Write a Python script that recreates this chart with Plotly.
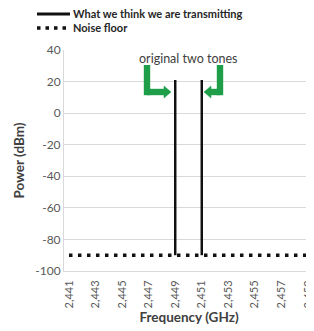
import plotly.graph_objects as go

# ---- data ----
freq_ticks = [2.441, 2.443, 2.445, 2.447, 2.449, 2.451, 2.453, 2.455, 2.457, 2.459]
tick_labels = ["2,441", "2,443", "2,445", "2,447", "2,449", "2,451", "2,453", "2,455", "2,457", "2,459"]
power_ticks = [40, 20, 0, -20, -40, -60, -80, -100]
power_labels = ["40", "20", "0", "-20", "-40", "-60", "-80", "-100"]
tone_freqs = [2.449, 2.451]
tone_power = [21, 21]
noise_floor_db = -90
noise_freq = [2.441, 2.459]
noise_power = [noise_floor_db, noise_floor_db]
series_names = ["What we think we are transmitting", "Noise floor"]

FONT = "Lato, 'Open Sans', sans-serif"
GREEN = "#1f9e4a"
OFF = 8  # page body margin
W, H = 314, 331
# plot area in window pixels: left 64, right 314, top 50, bottom 271
ML = 64 - OFF
MT = 50 - OFF
MR = W - (314 - OFF)
MB = H - (271 - OFF)
PW, PH = W - ML - MR, H - MT - MB

def px(x):
    return (x - OFF - ML) / PW

def py(y):
    return 1 + (MT - (y - OFF)) / PH

fig = go.Figure()

# tones as vertical lines from noise floor up to tone power
tx, ty = [], []
for f, p in zip(tone_freqs, tone_power):
    tx += [f, f, None]
    ty += [noise_floor_db, p, None]
fig.add_trace(go.Scatter(x=tx, y=ty, mode="lines",
                         line=dict(color="#111111", width=2.5),
                         name=series_names[0], showlegend=False))
fig.add_trace(go.Scatter(x=noise_freq, y=noise_power, mode="lines",
                         line=dict(color="#111111", width=3.5, dash="3.5px,5.5px"),
                         name=series_names[1], showlegend=False))

shapes = []
annotations = []

# manual legend (compact, like the original)
legend_rows = [(14, "solid"), (28, "3.5px,5px")]
for (yy, dash), name in zip(legend_rows, series_names):
    shapes.append(dict(type="line", xref="paper", yref="paper",
                       x0=px(37), x1=px(70), y0=py(yy), y1=py(yy),
                       line=dict(color="#111111", width=3.5 if dash != "solid" else 3, dash=dash)))
    annotations.append(dict(x=px(71), y=py(yy), xref="paper", yref="paper",
                            xanchor="left", yanchor="middle", showarrow=False,
                            text=f"<b>{name}</b>",
                            font=dict(family=FONT, size=11, color="#262626")))

# green bent arrows (annotation graphics), placed in pixel coords of the window
def bent_arrow(stem_px, top_px, bend_px, tip_px, direction):
    half = 3.2
    head_len = 7
    head_half = 6
    base_px = tip_px - direction * head_len
    shapes.append(dict(type="rect", xref="paper", yref="paper",
                       x0=px(stem_px - half), x1=px(stem_px + half),
                       y0=py(bend_px + half), y1=py(top_px),
                       fillcolor=GREEN, line=dict(width=0), layer="above"))
    shapes.append(dict(type="rect", xref="paper", yref="paper",
                       x0=px(min(stem_px, base_px)), x1=px(max(stem_px, base_px)),
                       y0=py(bend_px + half), y1=py(bend_px - half),
                       fillcolor=GREEN, line=dict(width=0), layer="above"))
    shapes.append(dict(type="path", xref="paper", yref="paper",
                       path=f"M {px(base_px)},{py(bend_px - head_half)} L {px(tip_px)},{py(bend_px)} L {px(base_px)},{py(bend_px + head_half)} Z",
                       fillcolor=GREEN, line=dict(color=GREEN, width=0.5), layer="above"))

bent_arrow(147, 65, 92, 171, +1)
bent_arrow(220, 65, 92, 204, -1)

annotations.append(dict(x=(tone_freqs[0] + tone_freqs[1]) / 2, y=40, xref="x", yref="y",
                        text="original two tones", showarrow=False,
                        font=dict(family=FONT, size=12.5, color="#404040"),
                        yanchor="top", yshift=1))

fig.update_layout(
    width=W, height=H,
    margin=dict(l=ML, r=MR, t=MT, b=MB, autoexpand=False),
    plot_bgcolor="white", paper_bgcolor="white",
    font=dict(family=FONT, size=11, color="#595959"),
    shapes=shapes,
    annotations=annotations,
    showlegend=False,
)
fig.update_xaxes(range=[2.440625, 2.45945], tickmode="array", tickvals=freq_ticks,
                 ticktext=tick_labels, tickangle=-90, showgrid=False, zeroline=False,
                 showline=True, linecolor="#d9d9d9", linewidth=1, automargin=False,
                 ticks="", ticklabelstandoff=4,
                 tickfont=dict(size=11, color="#595959"),
                 title=dict(text="<b>Frequency (GHz)</b>", font=dict(size=13.5, color="#404040"), standoff=5))
fig.update_yaxes(range=[-100, 40], tickmode="array", tickvals=power_ticks, ticktext=power_labels,
                 showgrid=True, gridcolor="#d9d9d9", gridwidth=1,
                 zeroline=False, showline=True, linecolor="#d9d9d9", linewidth=1, automargin=False,
                 tickfont=dict(size=12, color="#595959"),
                 title=dict(text="<b>Power (dBm)</b>", font=dict(size=13.5, color="#404040"), standoff=7))

fig.write_html("out.html")
